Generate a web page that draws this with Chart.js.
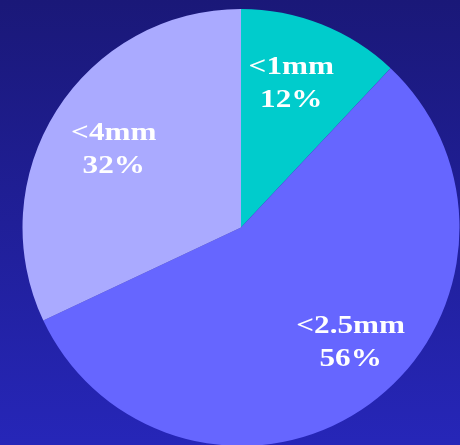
<!DOCTYPE html>
<html>
<head>
<meta charset="utf-8">
<script src="https://cdn.jsdelivr.net/npm/chart.js@4/dist/chart.umd.min.js"></script>
<style>
  html, body { margin: 0; padding: 0; width: 460px; height: 445px; overflow: hidden; }
  body { background: linear-gradient(to bottom, #1a1878 0%, #2626b8 100%); }
  #wrap { position: absolute; left: 0; top: 0; width: 460px; height: 460px; }
  .probe { font: bold 26px "Liberation Serif"; position: absolute; left: -999px; }
</style>
</head>
<body>
<span class="probe">0</span>
<div id="wrap"><canvas id="pie"></canvas></div>
<script>
// Particle size classes and their shares (%)
const categories = ['<1mm', '<2.5mm', '<4mm'];
const shares = [12, 56, 32];
const sliceColors = ['#00cccc', '#6666ff', '#aaaaff'];

// Where each two-line label sits inside its slice: fraction of the radius and a small angular nudge (degrees)
const labelRadius = [0.70, 0.725, 0.685];
const labelNudge = [-2.4, -7.8, -0.6];

const LABEL_FONT = 'bold 26px "Liberation Serif", "Times New Roman", serif';

const sliceLabels = {
  id: 'sliceLabels',
  afterDatasetsDraw(chart) {
    const ctx = chart.ctx;
    const meta = chart.getDatasetMeta(0);
    ctx.save();
    ctx.fillStyle = '#ffffff';
    ctx.font = LABEL_FONT;
    ctx.textAlign = 'center';
    ctx.textBaseline = 'middle';
    meta.data.forEach((arc, i) => {
      const p = arc.getProps(['x', 'y', 'startAngle', 'endAngle', 'outerRadius'], true);
      const mid = (p.startAngle + p.endAngle) / 2 + labelNudge[i] * Math.PI / 180;
      const r = p.outerRadius * labelRadius[i];
      const cx = p.x + Math.cos(mid) * r;
      const cy = p.y + Math.sin(mid) * r;
      const lines = [categories[i], shares[i] + '%'];
      lines.forEach((t, k) => {
        ctx.save();
        ctx.translate(cx, cy + 1 + (k - 0.5) * 33);
        ctx.scale(1.2, 1);
        ctx.fillText(t, 0, 0);
        ctx.restore();
      });
    });
    ctx.restore();
  }
};

function draw() {
  new Chart(document.getElementById('pie'), {
    type: 'pie',
    data: {
      labels: categories,
      datasets: [{
        data: shares,
        backgroundColor: sliceColors,
        borderWidth: 0
      }]
    },
    options: {
      responsive: true,
      maintainAspectRatio: false,
      animation: false,
      layout: { padding: { left: 22, right: 0, top: 9, bottom: 14 } },
      plugins: {
        legend: { display: false },
        tooltip: { enabled: false }
      }
    },
    plugins: [sliceLabels]
  });
}

document.fonts.load('bold 26px "Liberation Serif"').then(draw, draw);
</script>
</body>
</html>
